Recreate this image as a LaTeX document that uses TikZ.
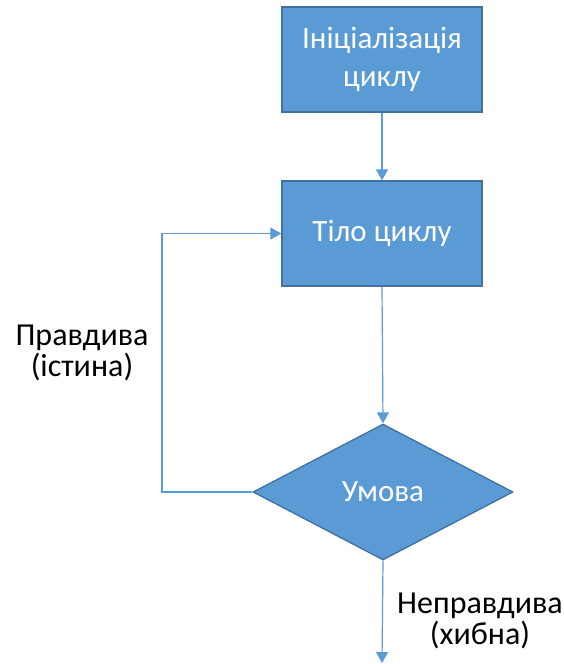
\documentclass[tikz,border=0pt]{standalone}
\usepackage{fontspec}
\setmainfont{Carlito}
\usetikzlibrary{arrows.meta,shapes.geometric}
\definecolor{boxfill}{HTML}{5B9BD5}
\definecolor{boxedge}{HTML}{41719C}
\definecolor{linkblue}{HTML}{5B9BD5}
\tikzset{
  stepbox/.style={draw=boxedge, line width=1.3pt, fill=boxfill, text=white,
    minimum width=200pt, minimum height=105pt, inner sep=0pt, align=center,
    font=\fontsize{31}{38}\selectfont},
  decision/.style={diamond, draw=boxedge, line width=1.3pt, fill=boxfill, text=white,
    minimum width=260pt, minimum height=136pt, inner sep=0pt,
    font=\fontsize{31}{38}\selectfont},
  link/.style={draw=linkblue, line width=1.2pt, -{Triangle[width=12pt,length=11pt]}},
  caption/.style={align=center, inner sep=0pt, font=\fontsize{32}{31}\selectfont}
}
\begin{document}
\begin{tikzpicture}[x=1pt,y=-1pt]
  \useasboundingbox (0,0) rectangle (563,664);
  \node[stepbox] (init) at (382,59.5) {Ініціалізація\\циклу};
  \node[stepbox] (body) at (382,233.5) {Тіло циклу};
  \node[decision] (cond) at (383,492) {Умова};
  \coordinate (back) at (162,492);
  \coordinate (exit) at (382,663);
  \draw[link] (init.south) -- (body.north);
  \draw[link] (body.south) -- (cond.north);
  \draw[link] (cond.west) -- (back) |- (body.west);
  \draw[link] (cond.south) -- (exit);
  \node[caption] (yes) at (82,353) {Правдива\\(істина)};
  \node[caption] (no) at (480,621) {Неправдива\\(хибна)};
\end{tikzpicture}
\end{document}
